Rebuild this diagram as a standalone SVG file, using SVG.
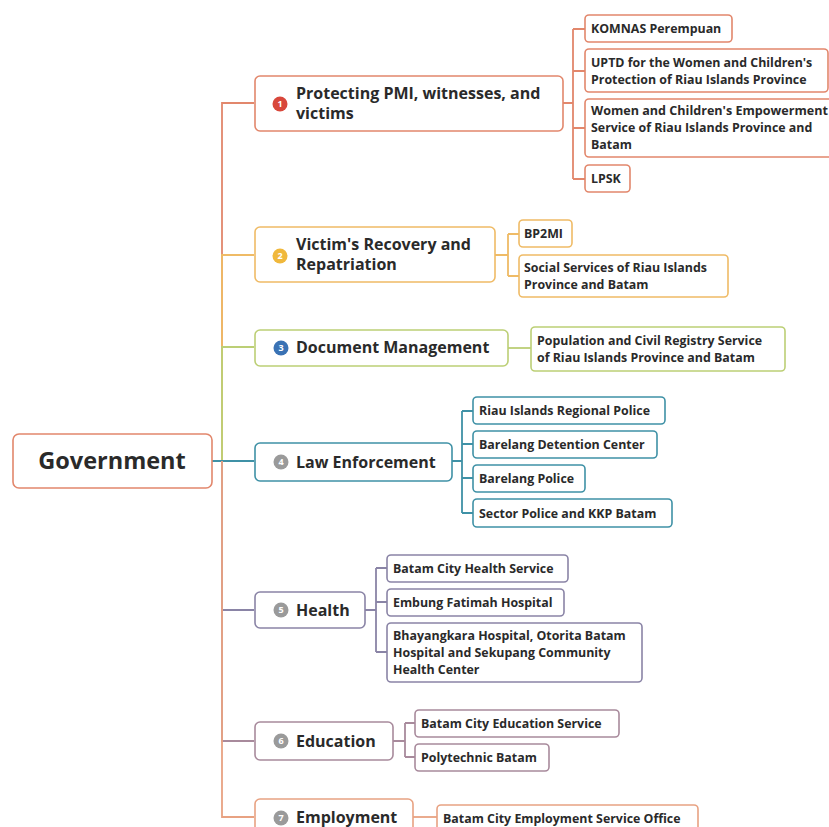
<svg xmlns="http://www.w3.org/2000/svg" width="829" height="827" viewBox="0 0 829 827">
<style>
.t{font-family:"Open Sans","Noto Sans","Liberation Sans",sans-serif;font-weight:bold;fill:#2a2a2a}
.root{font-size:23.5px}
.br{font-size:16px}
.ch{font-size:12.4px}
.ic{font-family:"Open Sans","Liberation Sans",sans-serif;font-weight:bold;font-size:9px;fill:#fff;text-anchor:middle}
rect{fill:#fff;stroke-width:1.6}
.c1{stroke:#e2876c}.c2{stroke:#efbb66}.c3{stroke:#bccf75}.c4{stroke:#3f91a6}.c5{stroke:#8a84a6}.c6{stroke:#a88a9c}.c7{stroke:#e8a282}
path{fill:none;stroke-width:1.8}
</style>
<rect x="0" y="0" width="829" height="827" style="fill:#fff;stroke:none"/>
<g id="connectors">
<path class="c1" d="M212,461 H222 V103 H254"/>
<path class="c2" d="M222,461 V255 H254"/>
<path class="c3" d="M222,461 V347 H254"/>
<path class="c4" d="M212,461 H254"/>
<path class="c5" d="M222,461 V610 H254"/>
<path class="c6" d="M222,461 V741 H254"/>
<path class="c7" d="M222,461 V817 H254"/>
<path class="c1" d="M563,103 H573 M573,29 V179 M573,29 H585 M573,71 H585 M573,128 H585 M573,179 H585"/>
<path class="c2" d="M495,255 H508 M508,234 V276 M508,234 H519 M508,276 H519"/>
<path class="c3" d="M508,348 H531"/>
<path class="c4" d="M452,461 H462 M462,411 V513 M462,411 H473 M462,444 H473 M462,478 H473 M462,513 H473"/>
<path class="c5" d="M365,610 H376 M376,568 V652 M376,568 H387 M376,602 H387 M376,652 H387"/>
<path class="c6" d="M393,741 H405 M405,723 V757 M405,723 H415 M405,757 H415"/>
<path class="c7" d="M413,817 H437"/>
</g>
<g id="root"><rect class="c1" x="13" y="434" width="199" height="54" rx="6"/><text class="t root" x="112" y="469" text-anchor="middle">Government</text></g>
<g id="b1"><rect class="c1" x="255" y="76" width="308" height="55" rx="5"/><circle cx="280" cy="104" r="7.5" fill="#d8473b"/><text class="ic" x="280" y="107">1</text><text class="t br" x="296" y="99">Protecting PMI, witnesses, and</text><text class="t br" x="296" y="119">victims</text></g>
<g id="b1c1"><rect class="c1" x="585" y="15" width="147" height="27" rx="4"/><text class="t ch" x="591" y="33">KOMNAS Perempuan</text></g>
<g id="b1c2"><rect class="c1" x="585" y="49" width="243" height="43" rx="4"/><text class="t ch" x="591" y="66.5">UPTD for the Women and Children's</text><text class="t ch" x="591" y="83.5">Protection of Riau Islands Province</text></g>
<g id="b1c3"><rect class="c1" x="585" y="99" width="250" height="58" rx="4"/><text class="t ch" x="591" y="115" textLength="237" lengthAdjust="spacingAndGlyphs">Women and Children's Empowerment</text><text class="t ch" x="591" y="132">Service of Riau Islands Province and</text><text class="t ch" x="591" y="149">Batam</text></g>
<g id="b1c4"><rect class="c1" x="585" y="165" width="45" height="27" rx="4"/><text class="t ch" x="591" y="183">LPSK</text></g>
<g id="b2"><rect class="c2" x="255" y="227" width="240" height="55" rx="5"/><circle cx="280" cy="256" r="7.5" fill="#f0b83c"/><text class="ic" x="280" y="259">2</text><text class="t br" x="296" y="250">Victim's Recovery and</text><text class="t br" x="296" y="270">Repatriation</text></g>
<g id="b2c1"><rect class="c2" x="519" y="220" width="53" height="27" rx="4"/><text class="t ch" x="524" y="238">BP2MI</text></g>
<g id="b2c2"><rect class="c2" x="519" y="255" width="209" height="42" rx="4"/><text class="t ch" x="524" y="271.5">Social Services of Riau Islands</text><text class="t ch" x="524" y="288.5">Province and Batam</text></g>
<g id="b3"><rect class="c3" x="255" y="330" width="253" height="36" rx="5"/><circle cx="281" cy="348" r="7.5" fill="#3a72b4"/><text class="ic" x="281" y="351">3</text><text class="t br" x="296" y="353">Document Management</text></g>
<g id="b3c1"><rect class="c3" x="531" y="327" width="254" height="44" rx="4"/><text class="t ch" x="537" y="344.5">Population and Civil Registry Service</text><text class="t ch" x="537" y="361.5">of Riau Islands Province and Batam</text></g>
<g id="b4"><rect class="c4" x="255" y="443" width="197" height="38" rx="5"/><circle cx="281" cy="462" r="7.5" fill="#9a9a9a"/><text class="ic" x="281" y="465">4</text><text class="t br" x="296" y="468">Law Enforcement</text></g>
<g id="b4c1"><rect class="c4" x="473" y="397" width="192" height="27" rx="4"/><text class="t ch" x="479" y="415">Riau Islands Regional Police</text></g>
<g id="b4c2"><rect class="c4" x="473" y="431" width="184" height="27" rx="4"/><text class="t ch" x="479" y="449">Barelang Detention Center</text></g>
<g id="b4c3"><rect class="c4" x="473" y="465" width="112" height="27" rx="4"/><text class="t ch" x="479" y="483">Barelang Police</text></g>
<g id="b4c4"><rect class="c4" x="473" y="499" width="199" height="28" rx="4"/><text class="t ch" x="479" y="518">Sector Police and KKP Batam</text></g>
<g id="b5"><rect class="c5" x="255" y="592" width="110" height="36" rx="5"/><circle cx="281" cy="610" r="7.5" fill="#9a9a9a"/><text class="ic" x="281" y="613">5</text><text class="t br" x="296" y="616">Health</text></g>
<g id="b5c1"><rect class="c5" x="387" y="555" width="181" height="27" rx="4"/><text class="t ch" x="393" y="573">Batam City Health Service</text></g>
<g id="b5c2"><rect class="c5" x="387" y="589" width="177" height="27" rx="4"/><text class="t ch" x="393" y="607">Embung Fatimah Hospital</text></g>
<g id="b5c3"><rect class="c5" x="387" y="623" width="255" height="59" rx="4"/><text class="t ch" x="393" y="640">Bhayangkara Hospital, Otorita Batam</text><text class="t ch" x="393" y="657">Hospital and Sekupang Community</text><text class="t ch" x="393" y="674">Health Center</text></g>
<g id="b6"><rect class="c6" x="255" y="722" width="138" height="38" rx="5"/><circle cx="281" cy="741" r="7.5" fill="#9a9a9a"/><text class="ic" x="281" y="744">6</text><text class="t br" x="296" y="747">Education</text></g>
<g id="b6c1"><rect class="c6" x="415" y="710" width="204" height="27" rx="4"/><text class="t ch" x="421" y="728">Batam City Education Service</text></g>
<g id="b6c2"><rect class="c6" x="415" y="744" width="134" height="27" rx="4"/><text class="t ch" x="421" y="762">Polytechnic Batam</text></g>
<g id="b7"><rect class="c7" x="255" y="799" width="158" height="40" rx="5"/><circle cx="281" cy="818" r="7.5" fill="#9a9a9a"/><text class="ic" x="281" y="821">7</text><text class="t br" x="296" y="823">Employment</text></g>
<g id="b7c1"><rect class="c7" x="437" y="805" width="261" height="35" rx="4"/><text class="t ch" x="443" y="823">Batam City Employment Service Office</text></g>
</svg>
